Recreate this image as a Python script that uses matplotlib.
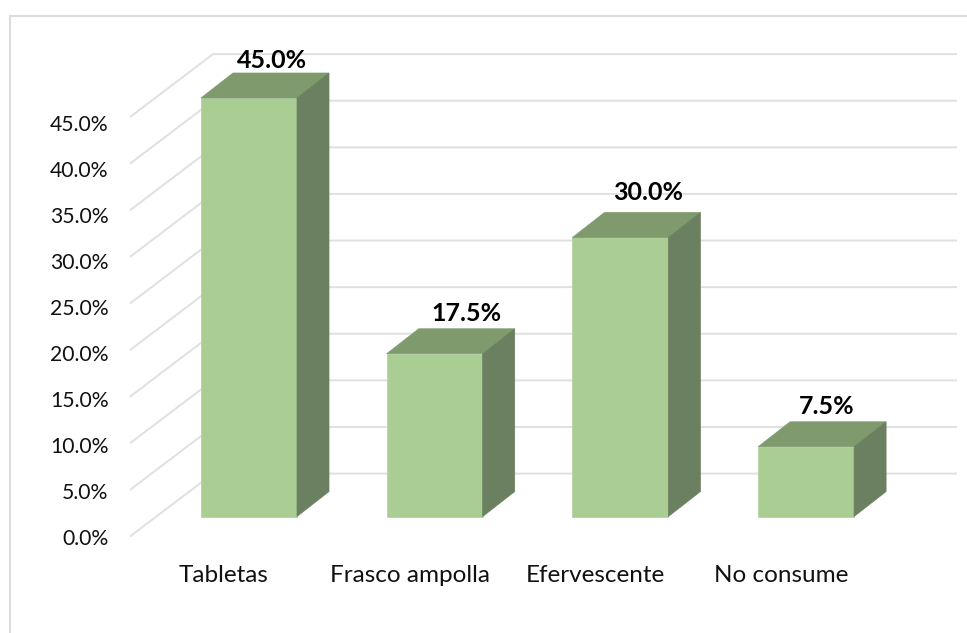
import numpy as np
import matplotlib
matplotlib.use("Agg")
import matplotlib.pyplot as plt
from matplotlib.patches import Polygon
from matplotlib.lines import Line2D

categories = ["Tabletas", "Frasco ampolla", "Efervescente", "No consume"]
values = [45.0, 17.5, 30.0, 7.5]
tick_values = [0, 5, 10, 15, 20, 25, 30, 35, 40, 45]
tick_labels = ["0.0%", "5.0%", "10.0%", "15.0%", "20.0%", "25.0%", "30.0%", "35.0%", "40.0%", "45.0%"]
label_lift_px = [38, 40, 45, 40]
label_shift_px = [23, 32, 28, 21]

W, H = 967, 633
PX_X = 185.7   # pixels per category
PX_Y = 9.31    # pixels per percentage point

plt.rcParams['font.family'] = ['Lato', 'DejaVu Sans']
fig = plt.figure(figsize=(W/100, H/100), dpi=100, facecolor='white')
L, R, B, T = 130, 957, 537, 20
ax = fig.add_axes([L/W, 1-B/H, (R-L)/W, (B-T)/H])
ax.patch.set_visible(False)
ax.set_xlim((L-249)/PX_X, (R-249)/PX_X)
ax.set_ylim((517-B)/PX_Y, (517-T)/PX_Y)
for s in ax.spines.values():
    s.set_visible(False)

bw = 96/PX_X
dx, dy = 32/PX_X, 25/PX_Y
front_off = (517-537)/PX_Y
wall_dx, wall_dy = 83/PX_X, 63/PX_Y
x0 = ax.get_xlim()[0]
xr = ax.get_xlim()[1]
grid = '#E0E0E0'
for v in tick_values:
    yf = v*(9.33/PX_Y) + front_off
    ax.plot([x0, x0+wall_dx, xr], [yf, yf+wall_dy, yf+wall_dy], color=grid, lw=1.4, zorder=1, solid_joinstyle='miter')

xs = np.arange(len(categories))
ax.bar(xs, values, width=bw, color='#A9CD93', edgecolor='#B5D4A2', linewidth=0.6, zorder=3)
for x, v, lift, shift in zip(xs, values, label_lift_px, label_shift_px):
    r = x + bw/2
    l = x - bw/2
    ax.add_patch(Polygon([(l, v), (r, v), (r+dx, v+dy), (l+dx, v+dy)], closed=True,
                         facecolor='#7F9B6E', edgecolor='#7F9B6E', linewidth=0.5, zorder=3))
    ax.add_patch(Polygon([(r, 0), (r+dx, dy), (r+dx, v+dy), (r, v)], closed=True,
                         facecolor='#6B8060', edgecolor='#6B8060', linewidth=0.5, zorder=3))
    ax.text(x + shift/PX_X, v + lift/PX_Y, f"{v:.1f}%", ha='center', va='center', fontsize=18,
            fontweight='bold', color='black', zorder=4)

ax.set_yticks([v*0.99 + (517-537.5)/PX_Y for v in tick_values])
ax.set_yticklabels(tick_labels)
ax.set_xticks(xs - 25/PX_X)
ax.set_xticklabels(categories)
ax.tick_params(axis='y', length=0, pad=15.5, labelsize=15.2, labelcolor='#111111')
ax.tick_params(axis='x', length=0, pad=20.5, labelsize=17.5, labelcolor='#111111')

fig.add_artist(Line2D([10/W, 10/W], [0, 1-16/H], color='#DCDCDC', lw=1.5))
fig.add_artist(Line2D([10/W, 1], [1-16/H, 1-16/H], color='#DCDCDC', lw=1.5))
fig.savefig('out.png', dpi=100, facecolor='white')
